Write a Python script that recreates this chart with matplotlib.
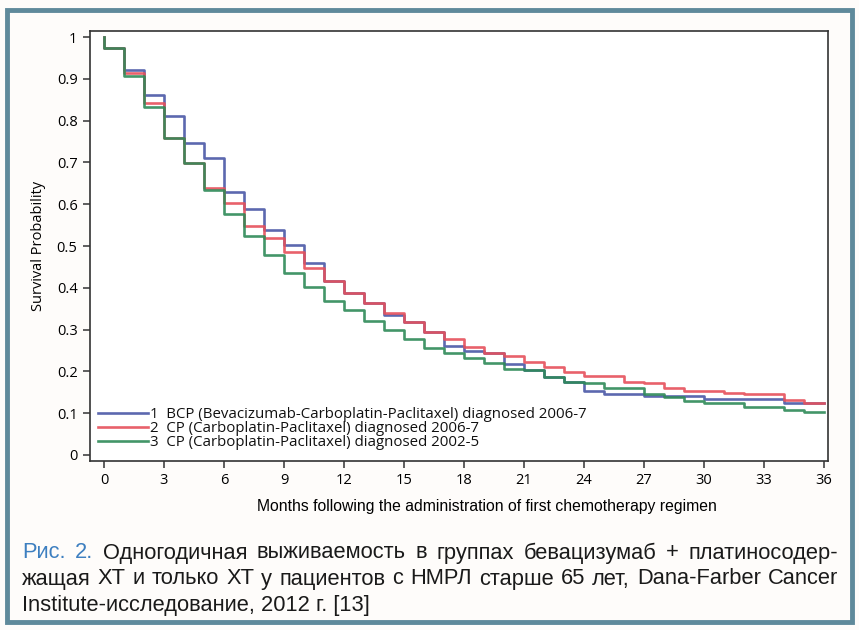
import matplotlib
matplotlib.use("Agg")
import matplotlib.pyplot as plt
from matplotlib import font_manager
from matplotlib.patches import Rectangle

# ---------------- data ----------------
months = list(range(0, 37))
start_value = 1.0
# survival on [m, m+1) for m = 0..35
bcp_0607 = [0.974, 0.920, 0.861, 0.811, 0.746, 0.710, 0.629, 0.589, 0.538, 0.502,
            0.459, 0.416, 0.388, 0.364, 0.335, 0.318, 0.294, 0.261, 0.249, 0.244,
            0.218, 0.203, 0.187, 0.175, 0.153, 0.146, 0.146, 0.141, 0.141, 0.141,
            0.134, 0.134, 0.134, 0.134, 0.124, 0.124]
cp_0607 = [0.974, 0.914, 0.842, 0.758, 0.699, 0.639, 0.603, 0.548, 0.519, 0.486,
           0.447, 0.416, 0.388, 0.364, 0.340, 0.318, 0.294, 0.277, 0.258, 0.244,
           0.237, 0.222, 0.211, 0.199, 0.189, 0.189, 0.175, 0.172, 0.160, 0.153,
           0.153, 0.148, 0.146, 0.146, 0.132, 0.125]
cp_0205 = [0.974, 0.907, 0.833, 0.758, 0.699, 0.634, 0.577, 0.524, 0.478, 0.435,
           0.402, 0.368, 0.347, 0.321, 0.299, 0.278, 0.256, 0.244, 0.232, 0.220,
           0.206, 0.203, 0.187, 0.175, 0.172, 0.161, 0.161, 0.146, 0.139, 0.130,
           0.124, 0.124, 0.115, 0.115, 0.108, 0.103]
series_labels = ["1  BCP (Bevacizumab-Carboplatin-Paclitaxel) diagnosed 2006-7",
                 "2  CP (Carboplatin-Paclitaxel) diagnosed 2006-7",
                 "3  CP (Carboplatin-Paclitaxel) diagnosed 2002-5"]
series_colors = ["#4a58a6", "#e6505b", "#2e8a58"]
xticks = list(range(0, 37, 3))
yticks = [0, 0.1, 0.2, 0.3, 0.4, 0.5, 0.6, 0.7, 0.8, 0.9, 1.0]
ytick_labels = ["0", "0.1", "0.2", "0.3", "0.4", "0.5", "0.6", "0.7", "0.8", "0.9", "1"]
xlabel = "Months following the administration of first chemotherapy regimen"
ylabel = "Survival Probability"
caption_prefix = "Рис. 2."
caption_lines = ["Рис. 2. Одногодичная выживаемость в группах бевацизумаб + платиносодер-",
                 "жащая ХТ и только ХТ у пациентов с НМРЛ старше 65 лет, Dana-Farber Cancer",
                 "Institute-исследование, 2012 г. [13]"]

# ---------------- fonts ----------------
names = {f.name for f in font_manager.fontManager.ttflist}
narrow = "Liberation Sans Narrow" if "Liberation Sans Narrow" in names else "Liberation Sans"
tickfont = "Open Sans" if "Open Sans" in names else "DejaVu Sans"

W, H = 859, 630
fig = plt.figure(figsize=(W / 100, H / 100), dpi=100)
fig.patch.set_facecolor("#fefcfa")

# figure border
fig.patches.append(Rectangle((7 / W, 1 - 622 / H), (852 - 7) / W, (622 - 10) / H,
                             transform=fig.transFigure, fill=False,
                             edgecolor="#5f8a9b", linewidth=3.5))

ax = fig.add_axes([90 / W, 1 - 461 / H, (828 - 90) / W, (461 - 31) / H])
ax.set_facecolor("white")

for vals, lab, col in zip([bcp_0607, cp_0607, cp_0205], series_labels, series_colors):
    xs = [months[0]] + months[:len(vals)] + [months[-1]]
    ys = [start_value] + vals + [vals[-1]]
    ax.plot(xs, ys, drawstyle="steps-post", color=col, lw=1.9, alpha=0.9, label=lab)

ax.set_xlim(-0.7, 36.2)
ax.set_ylim(-0.0144, 1.0144)
ax.set_xticks(xticks)
ax.set_xticklabels([str(t) for t in xticks], fontfamily=tickfont, fontsize=10.5)
ax.set_yticks(yticks)
ax.set_yticklabels(ytick_labels, fontfamily=tickfont, fontsize=10.5)
ax.tick_params(direction="out", length=5, width=1.1, color="#333333", pad=4)
for s in ax.spines.values():
    s.set_color("#333333")
    s.set_linewidth(1.2)

ax.set_xlabel(xlabel, fontfamily=narrow, fontsize=11.3)
ax.xaxis.set_label_coords((487 - 90) / 738, -(507 - 461) / 430)
ax.xaxis.label.set_va("center")
ax.set_ylabel(ylabel, fontfamily=tickfont, fontsize=10.5, labelpad=8)

leg = ax.legend(loc="lower left", bbox_to_anchor=(8 / 738, 11 / 430), frameon=False,
                borderpad=0, borderaxespad=0, handlelength=3.3, handletextpad=0.2,
                labelspacing=-0.08, prop={"family": tickfont, "size": 10.8})
for t in leg.get_texts():
    t.set_color("#111111")

# ---------------- caption (justified) ----------------
fig.canvas.draw()
renderer = fig.canvas.get_renderer()
x0, x1 = 22, 838
line_y = [553, 579, 605]


def width_of(s, size):
    t = fig.text(0, 0, s, fontfamily=narrow, fontsize=size)
    w = t.get_window_extent(renderer).width
    t.remove()
    return w


base = 14
widest = max(width_of(caption_lines[0], base), width_of(caption_lines[1], base))
cap_size = base * (x1 - x0 - 4) / widest

prefix_words = caption_prefix.split()
for i, (ln, yy) in enumerate(zip(caption_lines, line_y)):
    words = ln.split()
    if i < 2:
        widths = [width_of(w_, cap_size) for w_ in words]
        gap = (x1 - x0 - sum(widths)) / (len(words) - 1)
        cx = x0
        for j, (w_, wd) in enumerate(zip(words, widths)):
            col = "#3d7fc0" if (i == 0 and j < len(prefix_words)) else "#1a1a1a"
            fig.text(cx / W, 1 - yy / H, w_, fontfamily=narrow, fontsize=cap_size,
                     color=col, va="center", ha="left")
            cx += wd + gap
    else:
        fig.text(x0 / W, 1 - yy / H, ln, fontfamily=narrow, fontsize=cap_size,
                 color="#1a1a1a", va="center", ha="left")

fig.savefig("out.png", dpi=100, facecolor=fig.get_facecolor())
